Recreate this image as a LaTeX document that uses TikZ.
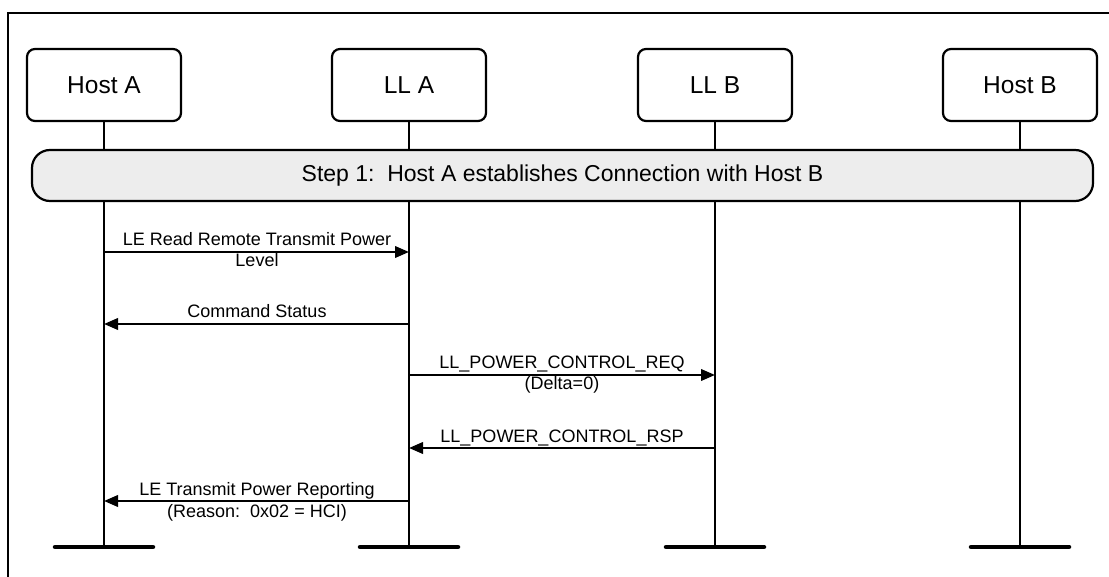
\documentclass[tikz,border=0pt]{standalone}
\usepackage{fontspec}
\setmainfont{Liberation Sans}
\usetikzlibrary{arrows.meta}
\begin{document}
\begin{tikzpicture}[x=1pt,y=-1pt,
 actor/.style={draw, line width=2.2pt, rounded corners=8pt, minimum width=154pt, minimum height=72pt, font=\fontsize{24.5}{28}\selectfont, inner sep=0pt},
 life/.style={line width=2.2pt},
 msg/.style={line width=2.2pt, -{Triangle[length=14pt,width=11.5pt]}},
 lbl/.style={font=\fontsize{18}{21}\selectfont, inner sep=0pt, anchor=base},
 endbar/.style={line width=4.5pt, line cap=round},
 stepbar/.style={draw, line width=2.2pt, fill=black!7, rounded corners=18pt, minimum width=1061pt, minimum height=51pt, inner sep=0pt, font=\fontsize{23}{27}\selectfont},
 frame/.style={line width=2.2pt}
]
\useasboundingbox (0,0) rectangle (1109,577);
% frame
\coordinate (fbl) at (8,578);
\coordinate (ftl) at (8,13);
\coordinate (ftr) at (1110,13);
\draw[frame] (fbl) -- (ftl) -- (ftr);
% actors
\node[actor] (hA) at (104,85) {Host A};
\node[actor] (lA) at (409,85) {LL A};
\node[actor] (lB) at (715,85) {LL B};
\node[actor] (hB) at (1020,85) {Host B};
% lifeline ends
\coordinate (ehA) at (104,547);
\coordinate (elA) at (409,547);
\coordinate (elB) at (715,547);
\coordinate (ehB) at (1020,547);
\draw[life] (hA.south) -- (ehA);
\draw[life] (lA.south) -- (elA);
\draw[life] (lB.south) -- (elB);
\draw[life] (hB.south) -- (ehB);
\foreach \e in {ehA,elA,elB,ehB}{
  \draw[endbar] ([xshift=-49pt]\e) -- ([xshift=49pt]\e);
}
% step bar
\node[stepbar] (step) at (562.5,175.5) {Step 1:\ \ Host A establishes Connection with Host B};
% message coordinates
\coordinate (m1a) at (104,252);   \coordinate (m1b) at (409,252);
\coordinate (m2a) at (409,324); \coordinate (m2b) at (104,324);
\coordinate (m3a) at (409,375); \coordinate (m3b) at (715,375);
\coordinate (m4a) at (715,448);   \coordinate (m4b) at (409,448);
\coordinate (m5a) at (409,501); \coordinate (m5b) at (104,501);
\draw[msg] (m1a) -- (m1b);
\draw[msg] (m2a) -- (m2b);
\draw[msg] (m3a) -- (m3b);
\draw[msg] (m4a) -- (m4b);
\draw[msg] (m5a) -- (m5b);
% labels
\node[lbl] (t1a) at (257,246) {LE Read Remote Transmit Power};
\node[lbl] (t1b) at (257,267) {Level};
\node[lbl] (t2a) at (257,318) {Command Status};
\node[lbl] (t3a) at (562,369) {LL\_POWER\_CONTROL\_REQ};
\node[lbl] (t3b) at (562,390) {(Delta=0)};
\node[lbl] (t4a) at (562,442) {LL\_POWER\_CONTROL\_RSP};
\node[lbl] (t5a) at (257,495) {LE Transmit Power Reporting};
\node[lbl] (t5b) at (257,517) {(Reason:\ \ 0x02 = HCI)};
\end{tikzpicture}
\end{document}
